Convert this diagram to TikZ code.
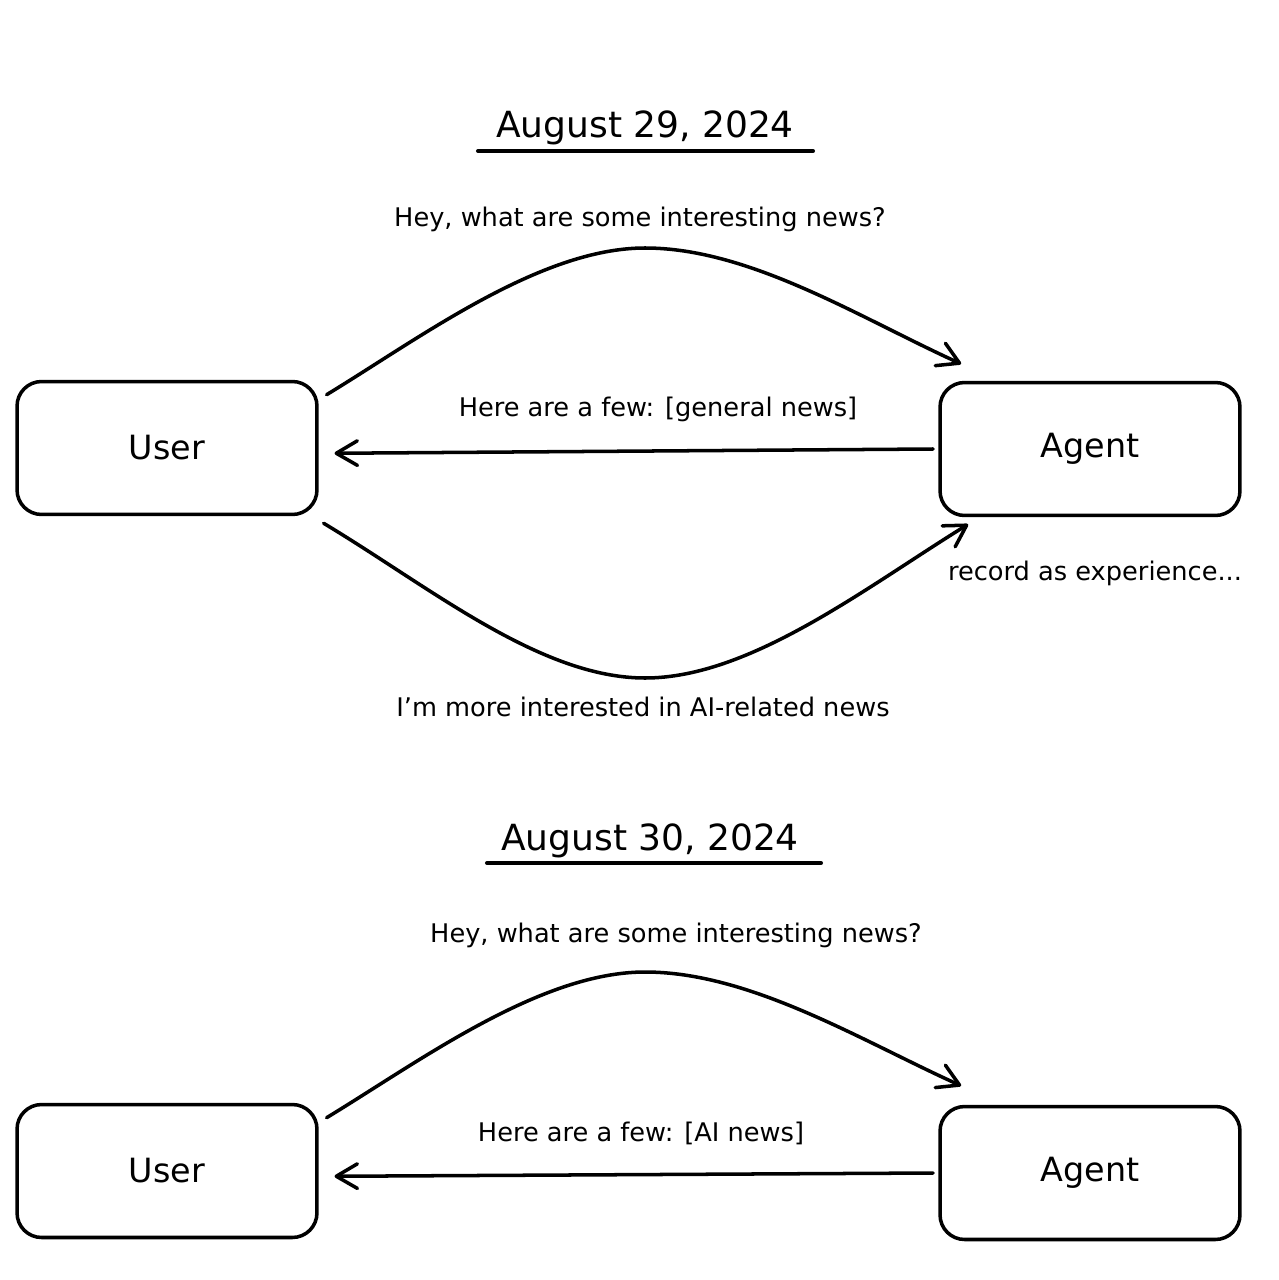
\documentclass[tikz,border=0pt]{standalone}
\usepackage{fontspec}
\setmainfont{DejaVu Sans}
\usetikzlibrary{arrows.meta}
\tikzset{
    caja/.style={draw, line width=2pt, rounded corners=14pt, minimum width=6cm, minimum height=2.66cm, font=\fontsize{19}{22}\selectfont},
    flecha/.style={line width=2pt, line cap=round, -{Straight Barb[length=12pt,width=14pt,line width=2pt,round]}},
    etiqueta/.style={font=\fontsize{14.6}{16}\selectfont},
    fecha/.style={font=\fontsize{20.5}{24}\selectfont}
}
\begin{document}
\begin{tikzpicture}[x=0.02cm,y=-0.02cm]
        \useasboundingbox (0,0) rectangle (1278,1280);

        % ~~~~ Primer dia ~~~~%
        \node[fecha] (fecha1) at (645,128) {August 29, 2024};
        \coordinate (sub1a) at (478,151);
        \coordinate (sub1b) at (813,151);
        \draw[line width=2.3pt, line cap=round] (sub1a) -- (sub1b);

        \node[caja] (user1) at (167,448) {User};
        \node[caja] (agent1) at (1090,449) {Agent};

        % ~~~~ Mensajes ~~~~%
        \draw[flecha] ([shift={(4.5pt,-8.5pt)}]user1.north east)
            .. controls (420,338) and (540,248) .. (645,248)
            .. controls (750,248) and (860,318) .. ([shift={(13pt,9.6pt)}]agent1.north west);
        \node[etiqueta] (preg1) at (640,219) {Hey, what are some interesting news?};

        \draw[flecha] ([xshift=-3pt]agent1.west) -- ([xshift=9pt,yshift=-3pt]user1.east);
        \node[etiqueta] (resp1) at (658,409) {Here are a few: [general news]};

        \draw[flecha] ([shift={(2.8pt,-4pt)}]user1.south east)
            .. controls (430,587) and (540,678) .. (645,678)
            .. controls (750,678) and (865,588) .. ([shift={(17pt,-4pt)}]agent1.south west);
        \node[etiqueta] (pref1) at (643,707) {I'm more interested in AI-related news};
        \node[etiqueta] (exp1) at (1095,573) {record as experience...};

        % ~~~~ Segundo dia ~~~~%
        \node[fecha] (fecha2) at (650,841) {August 30, 2024};
        \coordinate (sub2a) at (487,863);
        \coordinate (sub2b) at (821,863);
        \draw[line width=2.3pt, line cap=round] (sub2a) -- (sub2b);

        \node[caja] (user2) at (167,1171) {User};
        \node[caja] (agent2) at (1090,1173) {Agent};

        \draw[flecha] ([shift={(4.5pt,-8.5pt)}]user2.north east)
            .. controls (420,1061) and (540,972) .. (645,972)
            .. controls (750,972) and (860,1040) .. ([shift={(13pt,10.8pt)}]agent2.north west);
        \node[etiqueta] (preg2) at (676,935) {Hey, what are some interesting news?};

        \draw[flecha] ([xshift=-3pt]agent2.west) -- ([xshift=9pt,yshift=-3pt]user2.east);
        \node[etiqueta] (resp2) at (641,1133) {Here are a few: [AI news]};
\end{tikzpicture}
\end{document}
